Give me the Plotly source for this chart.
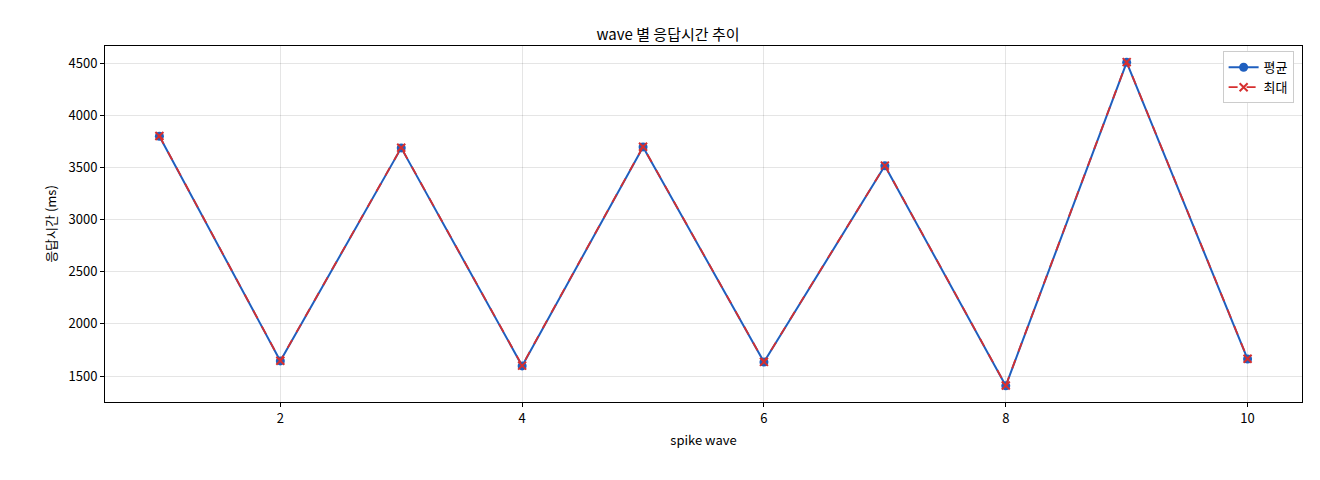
import plotly.graph_objects as go

waves = [1, 2, 3, 4, 5, 6, 7, 8, 9, 10]
avg_ms = [3800, 1645, 3688, 1597, 3697, 1634, 3516, 1406, 4508, 1663]
max_ms = [3802, 1647, 3690, 1600, 3699, 1636, 3518, 1409, 4510, 1665]

FONT = "Noto Sans CJK KR"
fig = go.Figure()
fig.add_trace(go.Scatter(x=waves, y=avg_ms, mode="lines+markers", name="평균",
                         line=dict(color="#1f5fbf", width=2),
                         marker=dict(symbol="circle", size=9, color="#1f5fbf")))
fig.add_trace(go.Scatter(x=waves, y=max_ms, mode="lines+markers", name="최대",
                         line=dict(color="#d62f2f", width=1.8, dash="dash"),
                         marker=dict(symbol="x-thin", size=8, color="#d62f2f",
                                     line=dict(color="#d62f2f", width=2))))
axis = dict(showline=True, linecolor="black", linewidth=1, mirror=True,
            ticks="outside", ticklen=4, tickcolor="black",
            showgrid=True, gridcolor="rgba(0,0,0,0.1)", zeroline=False,
            tickfont=dict(size=13, color="black"))
fig.update_layout(
    width=1320, height=480, paper_bgcolor="white", plot_bgcolor="white",
    font=dict(family=FONT, size=13, color="black"),
    margin=dict(l=97, r=26, t=38, b=86),
    title=dict(text="wave 별 응답시간 추이", x=0.5, xanchor="center", y=0.955,
               font=dict(size=15)),
    xaxis=dict(axis, range=[0.55, 10.45], tickvals=[2, 4, 6, 8, 10],
               title=dict(text="spike wave", font=dict(size=13), standoff=10)),
    yaxis=dict(axis, range=[1251, 4665], tickvals=[1500, 2000, 2500, 3000, 3500, 4000, 4500],
               title=dict(text="응답시간 (ms)", font=dict(size=13), standoff=8)),
    legend=dict(x=0.993, y=0.985, xanchor="right", yanchor="top",
                bordercolor="#cccccc", borderwidth=1, bgcolor="white",
                font=dict(size=13)),
    showlegend=True,
)
fig.write_html("out.html")
